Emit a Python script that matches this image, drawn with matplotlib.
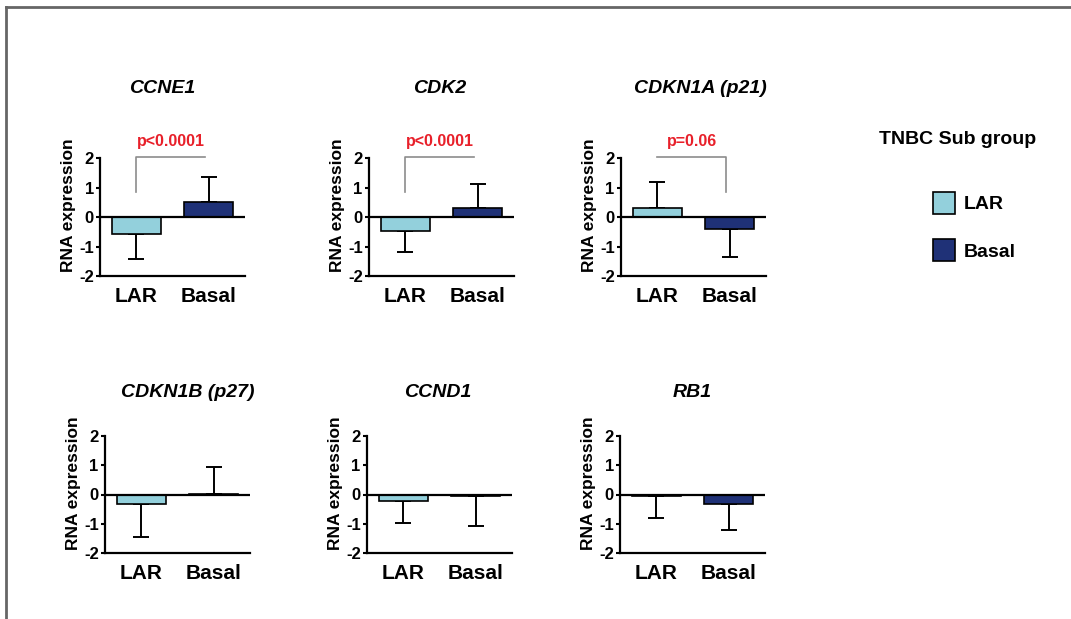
import matplotlib
matplotlib.use('Agg')
import matplotlib.pyplot as plt
from matplotlib import font_manager
from matplotlib.lines import Line2D

# data (mean and one-sided error)
genes = ['CCNE1', 'CDK2', 'CDKN1A (p21)', 'CDKN1B (p27)', 'CCND1', 'RB1']
groups = ['LAR', 'Basal']
lar_mean = [-0.58, -0.46, 0.29, -0.33, -0.22, -0.06]
lar_err = [0.85, 0.72, 0.90, 1.14, 0.76, 0.76]
basal_mean = [0.52, 0.32, -0.39, 0.03, -0.06, -0.31]
basal_err = [0.85, 0.79, 0.98, 0.91, 1.03, 0.91]
p_labels = ['p<0.0001', 'p<0.0001', 'p=0.06', None, None, None]
bracket_drop = ['left', 'left', 'right', None, None, None]
yticks = [-2, -1, 0, 1, 2]

colors = ['#93d0dc', '#1f3177']

W, H = 1071, 619
plt.rcParams['font.family'] = ['Liberation Sans', 'DejaVu Sans']
plt.rcParams['font.weight'] = 'bold'
plt.rcParams['axes.unicode_minus'] = False

names = {f.name for f in font_manager.fontManager.ttflist}
if 'Liberation Sans Narrow' in names:
    xfont, xsize = 'Liberation Sans Narrow', 18
else:
    xfont, xsize = 'Liberation Sans', 15

fig = plt.figure(figsize=(W / 100, H / 100), dpi=100)

# axes boxes in pixels: left, top (y=2), bottom (y=-2)
boxes = [(100, 158, 276), (369, 158, 276), (621, 158, 276),
         (105, 436, 553), (367, 436, 553), (620, 436, 553)]
title_x = [0.43, 0.49, 0.545, 0.57, 0.49, 0.50]
axw = 145

bars_for_legend = None
for i, g in enumerate(genes):
    left, top, bot = boxes[i]
    ax = fig.add_axes([left / W, 1 - bot / H, axw / W, (bot - top) / H])
    means = [lar_mean[i], basal_mean[i]]
    errs = [lar_err[i], basal_err[i]]
    xs = [1, 3]
    bars = ax.bar(xs, means, width=1.35, color=colors,
                  edgecolor='black', linewidth=1.2, zorder=2)
    if bars_for_legend is None:
        bars_for_legend = bars
    for x, m, e in zip(xs, means, errs):
        lo = e if m < 0 else 0
        hi = e if m >= 0 else 0
        ax.errorbar(x, m, yerr=[[lo], [hi]], fmt='none', ecolor='black',
                    elinewidth=1.4, capsize=6, capthick=1.4, zorder=1)
    ax.axhline(0, color='black', lw=1.6, zorder=3)

    ax.set_xlim(0, 4)
    ax.set_ylim(-2, 2)
    ax.set_yticks(yticks)
    ax.set_yticklabels([str(t) for t in yticks], fontsize=12, fontweight='bold')
    ax.set_xticks(xs)
    ax.set_xticklabels(groups, fontsize=xsize, family=xfont, fontweight='bold')
    ax.tick_params(axis='x', length=0, pad=8)
    ax.tick_params(axis='y', length=3, width=1.5, pad=1.5, direction='out')
    for s in ['top', 'right']:
        ax.spines[s].set_visible(False)
    for s in ['left', 'bottom']:
        ax.spines[s].set_linewidth(1.6)

    ax.set_ylabel('RNA expression', fontsize=12.5, fontweight='bold', va='center')
    ax.yaxis.set_label_coords(-0.215, 0.6)

    ty = 1.593 if i < 3 else 1.368
    ax.text(title_x[i], ty, g, transform=ax.transAxes, ha='center', va='center',
            fontsize=14, fontweight='bold', style='italic')

    if p_labels[i]:
        x0, x1, yb, yt = 1.0, 2.9, 0.85, 2.05
        lx = [x0, x0, x1, x1]
        ly = [yt, yt, yt, yt]
        if bracket_drop[i] == 'left':
            ly[0] = yb
        else:
            ly[3] = yb
        ax.plot(lx, ly, color='#8c8c8c', lw=1.2, clip_on=False)
        ax.text((x0 + x1) / 2, 2.3, p_labels[i], ha='center', va='bottom',
                color='#e8202a', fontsize=11.5, fontweight='bold')

# legend
fig.text(958 / W, 1 - 139 / H, 'TNBC Sub group', ha='center', va='center',
         fontsize=14, fontweight='bold')
leg = fig.legend(bars_for_legend, groups, loc='upper left',
                 bbox_to_anchor=(933 / W, 1 - 192 / H), frameon=False,
                 borderpad=0, borderaxespad=0, handlelength=1.15,
                 handleheight=1.35, labelspacing=1.3, handletextpad=0.45,
                 prop={'size': 14, 'weight': 'bold'})

# frame lines of the original panel
fig.add_artist(Line2D([6 / W, 1], [1 - 6.5 / H, 1 - 6.5 / H], color='#666666', lw=2))
fig.add_artist(Line2D([6 / W, 6 / W], [0, 1 - 6.5 / H], color='#666666', lw=2))

fig.savefig('out.png', dpi=100)
